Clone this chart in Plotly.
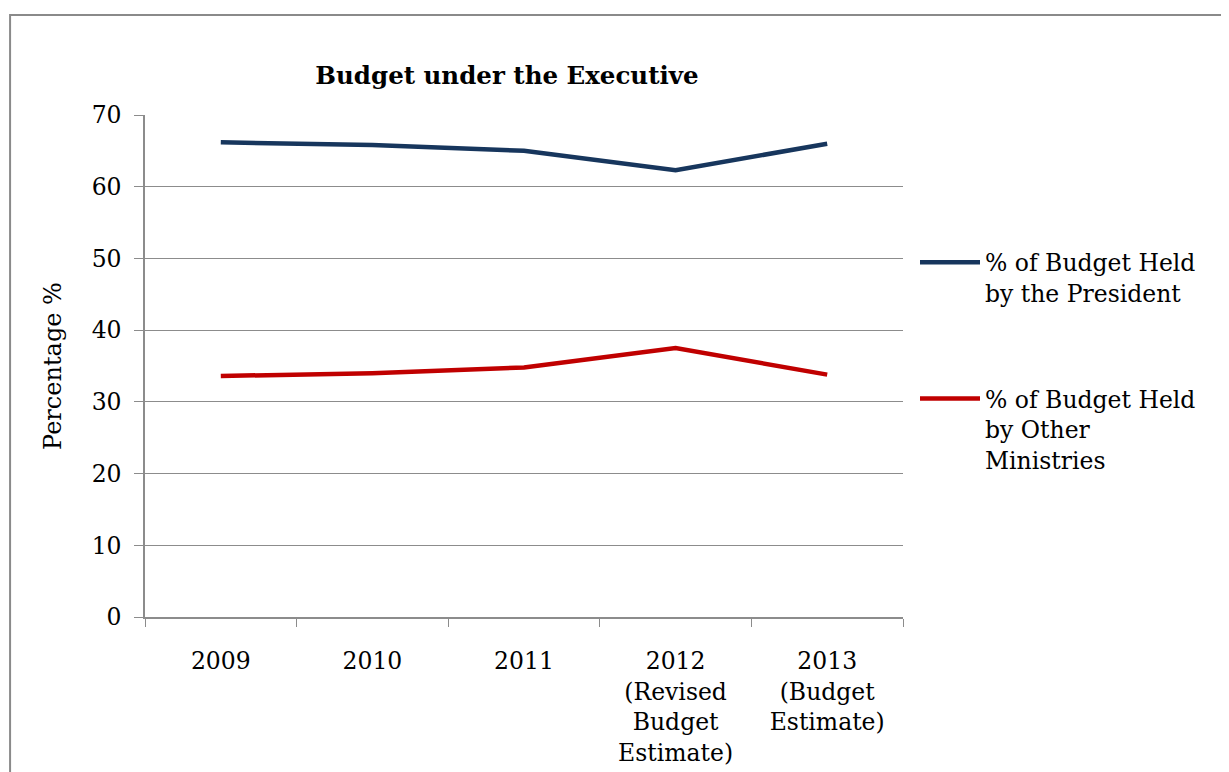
import plotly.graph_objects as go

years = ["2009", "2010", "2011", "2012<br>(Revised<br>Budget<br>Estimate)", "2013<br>(Budget<br>Estimate)"]
president = [66.2, 65.8, 65.0, 62.3, 66.0]
other_ministries = [33.6, 34.0, 34.8, 37.5, 33.8]

FONT = "DejaVu Serif"
GRID = "#8c8c8c"

fig = go.Figure()

fig.add_trace(
    go.Scatter(
        x=years,
        y=president,
        mode="lines",
        name="% of Budget Held<br>by the President",
        line=dict(color="#17365D", width=4.5),
        legendgroup="a",
    )
)

fig.add_trace(
    go.Scatter(
        x=years,
        y=other_ministries,
        mode="lines",
        name="% of Budget Held<br>by Other<br>Ministries",
        line=dict(color="#C00000", width=4.5),
        legendgroup="b",
    )
)

fig.update_layout(
    width=1221,
    height=764,
    margin=dict(l=137, r=326, t=107, b=155),
    paper_bgcolor="white",
    plot_bgcolor="white",
    font=dict(family=FONT, size=23.5, color="black"),
    title=dict(
        text="<b>Budget under the Executive</b>",
        font=dict(family=FONT, size=24.5, color="black"),
        x=(507 - 8) / 1221,
        xanchor="center",
        y=1 - (75 - 8) / 764,
        yanchor="middle",
    ),
    legend=dict(
        x=(915 - 145) / 758,
        xanchor="left",
        y=0.75,
        yanchor="top",
        valign="top",
        tracegroupgap=72,
        itemwidth=60,
        font=dict(family=FONT, size=23.5, color="black"),
        bgcolor="rgba(0,0,0,0)",
    ),
    showlegend=True,
)

fig.update_xaxes(
    type="category",
    range=[-0.5, 4.5],
    automargin=False,
    showgrid=False,
    showline=True,
    linecolor=GRID,
    linewidth=1.5,
    ticks="outside",
    tickson="boundaries",
    ticklen=8,
    tickcolor=GRID,
    tickfont=dict(family=FONT, size=23.5, color="black"),
    ticklabelstandoff=22,
)

fig.update_yaxes(
    range=[0, 70],
    dtick=10,
    automargin=False,
    showgrid=True,
    gridcolor=GRID,
    gridwidth=1,
    showline=True,
    linecolor=GRID,
    linewidth=1.5,
    ticks="outside",
    ticklen=9,
    tickcolor=GRID,
    tickfont=dict(family=FONT, size=23.5, color="black"),
    ticklabelstandoff=8,
    zeroline=False,
    title=dict(text="Percentage %", font=dict(family=FONT, size=24, color="black"), standoff=23),
)

# outer chart border (runs off the right and bottom edges like the original)
fig.add_shape(
    type="rect",
    xref="paper",
    yref="paper",
    x0=-0.178,
    x1=1.45,
    y0=-0.34,
    y1=1.199,
    line=dict(color="#8a8a8a", width=2),
    layer="below",
)

fig.write_html("out.html")
